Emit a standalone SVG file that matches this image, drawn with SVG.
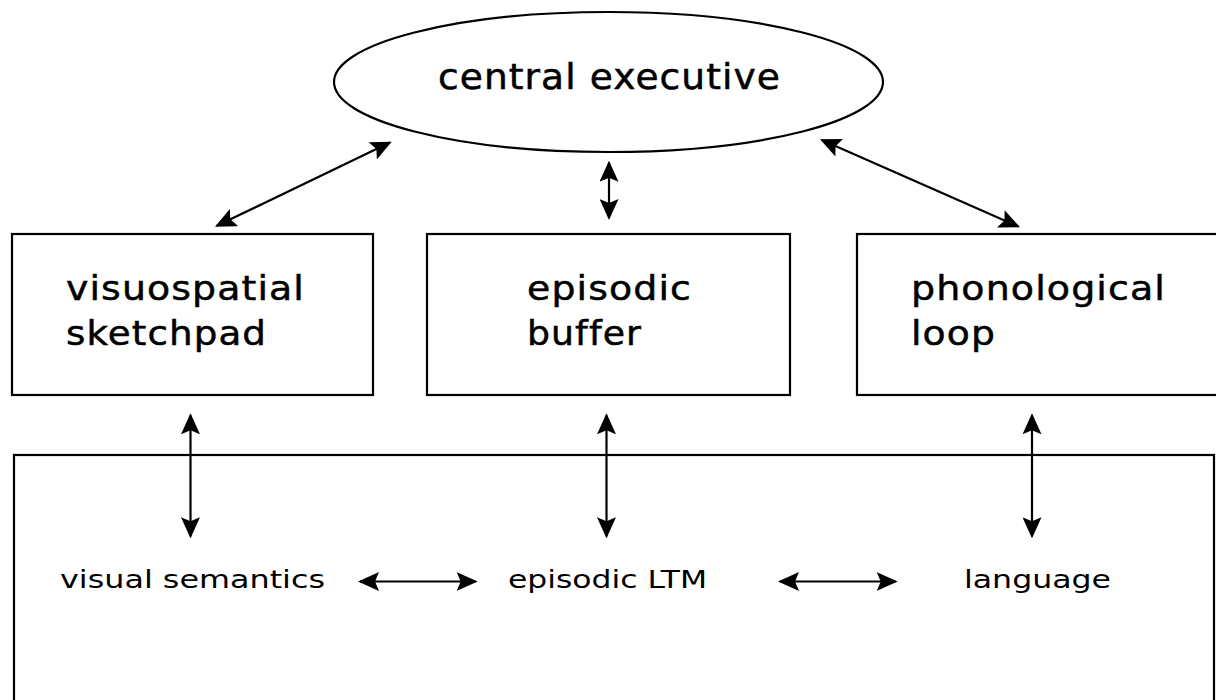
<svg xmlns="http://www.w3.org/2000/svg" width="1216" height="700" viewBox="0 0 1216 700">
  <style>
    .shape { fill: #ffffff; stroke: #000000; stroke-width: 2.2; }
    .big { font-family: "DejaVu Sans", "Verdana", sans-serif; font-size: 34px; fill: #000000; stroke: #000000; stroke-width: 0.5; letter-spacing: 1px; }
    .title { font-family: "DejaVu Sans", "Verdana", sans-serif; font-size: 35px; fill: #000000; stroke: #000000; stroke-width: 0.5; letter-spacing: 1px; }
    .small { font-family: "DejaVu Sans", "Verdana", sans-serif; font-size: 25px; fill: #000000; }
    .link { fill: none; stroke: #000000; stroke-width: 2.2; marker-start: url(#head); marker-end: url(#head); }
  </style>
  <defs>
    <!-- swept-back arrowhead, used at both ends of every connector -->
    <marker id="head" markerUnits="userSpaceOnUse" markerWidth="21" markerHeight="19"
            viewBox="0 0 21 19" refX="19" refY="9.5" orient="auto-start-reverse">
      <path d="M0,0 L21,9.5 L0,19 L4,9.5 Z" fill="#000000"/>
    </marker>
  </defs>

  <rect width="1216" height="700" fill="#ffffff"/>

  <!-- long-term memory area -->
  <g id="ltm">
    <rect class="shape" x="14" y="455" width="1200" height="260"/>
    <text class="small" x="60" y="588" textLength="265" lengthAdjust="spacingAndGlyphs">visual semantics</text>
    <text class="small" x="508" y="588" textLength="199" lengthAdjust="spacingAndGlyphs">episodic LTM</text>
    <text class="small" x="964" y="588" textLength="147" lengthAdjust="spacingAndGlyphs">language</text>
  </g>

  <g id="central-executive">
    <ellipse class="shape" cx="608.5" cy="82" rx="274.5" ry="70"/>
    <text class="title" x="438" y="89" textLength="343" lengthAdjust="spacingAndGlyphs">central executive</text>
  </g>

  <g id="visuospatial-sketchpad">
    <rect class="shape" x="12" y="234" width="361" height="161"/>
    <text class="big" x="66" y="300" textLength="239" lengthAdjust="spacingAndGlyphs">visuospatial</text>
    <text class="big" x="66" y="345" textLength="201" lengthAdjust="spacingAndGlyphs">sketchpad</text>
  </g>

  <g id="episodic-buffer">
    <rect class="shape" x="427" y="234" width="363" height="161"/>
    <text class="big" x="527" y="300" textLength="165" lengthAdjust="spacingAndGlyphs">episodic</text>
    <text class="big" x="527" y="345" textLength="115" lengthAdjust="spacingAndGlyphs">buffer</text>
  </g>

  <g id="phonological-loop">
    <rect class="shape" x="857" y="234" width="380" height="161"/>
    <text class="big" x="911" y="300" textLength="255" lengthAdjust="spacingAndGlyphs">phonological</text>
    <text class="big" x="911" y="345" textLength="85" lengthAdjust="spacingAndGlyphs">loop</text>
  </g>

  <g id="connectors">
    <line class="link" x1="216.8" y1="225.8" x2="389.9" y2="142.6"/>
    <line class="link" x1="609" y1="162.7" x2="609" y2="218"/>
    <line class="link" x1="821.8" y1="140.1" x2="1018.2" y2="226.5"/>
    <line class="link" x1="190.5" y1="415.3" x2="190.5" y2="536.3"/>
    <line class="link" x1="606.5" y1="415.3" x2="606.5" y2="536.3"/>
    <line class="link" x1="1032" y1="415.3" x2="1032" y2="536.3"/>
    <line class="link" x1="360" y1="581.5" x2="475.7" y2="581.5"/>
    <line class="link" x1="780" y1="581.5" x2="895.7" y2="581.5"/>
  </g>
</svg>
